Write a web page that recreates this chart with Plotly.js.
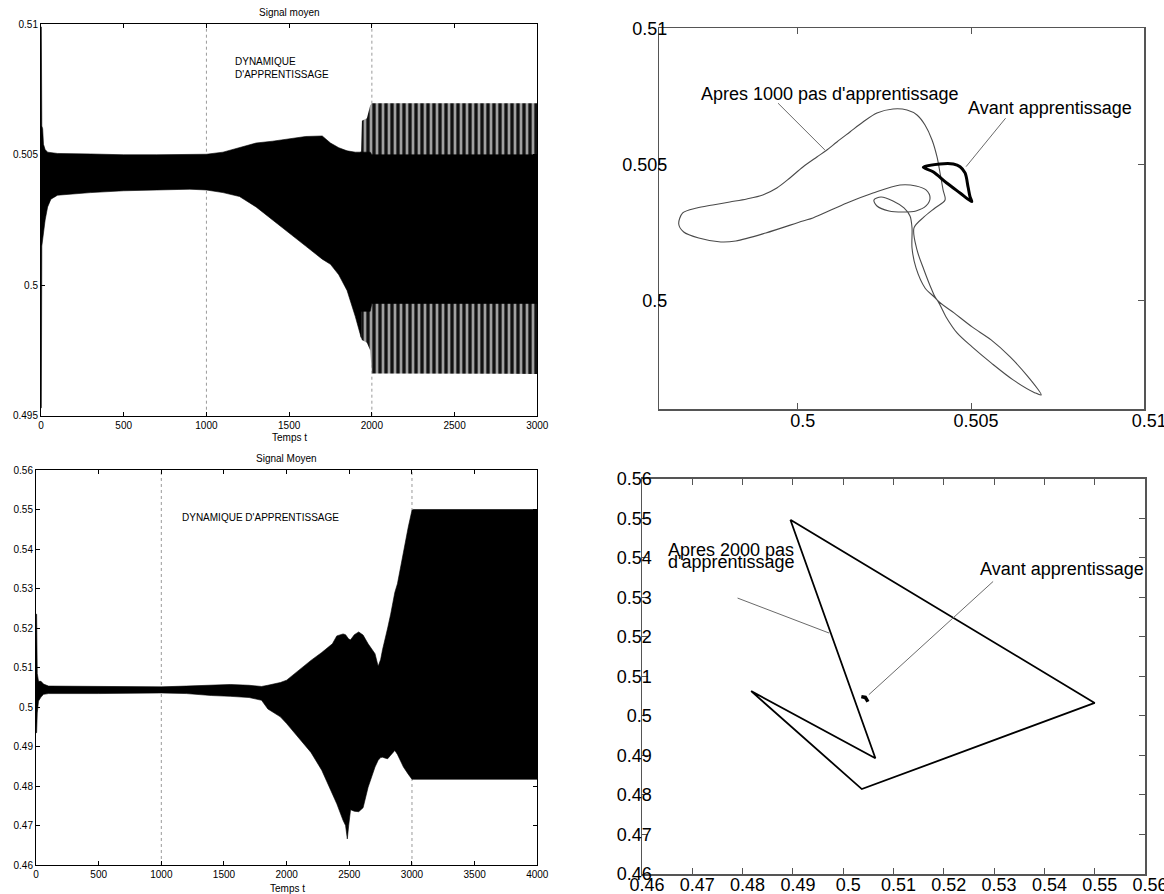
<!DOCTYPE html>
<html><head><meta charset="utf-8">
<script src="https://cdn.plot.ly/plotly-3.0.1.min.js"></script>
<style>html,body{margin:0;padding:0;background:#fff}#chart{width:1164px;height:894px}</style>
</head><body><div id="chart"></div>
<script>
// ---------- Top-left: "Signal moyen" (envelope of the oscillating signal)
const tlT  = [0, 2, 5, 10, 15, 25, 40, 60, 100, 300, 500, 700, 900, 1000, 1100, 1200, 1300, 1400, 1500, 1600, 1700, 1750, 1800, 1850, 1900, 1935, 1940, 1970, 1990, 2000, 2500, 3000];
const tlHi = [0.5099, 0.5099, 0.5061, 0.5060, 0.5054, 0.5052, 0.5051, 0.50508, 0.50505, 0.50503, 0.50500, 0.50500, 0.50500, 0.50502, 0.50510, 0.50528, 0.50545, 0.50552, 0.50562, 0.50570, 0.50572, 0.50545, 0.50527, 0.50515, 0.50510, 0.50510, 0.50630, 0.50640, 0.50690, 0.50697, 0.50697, 0.50697];
const tlLo = [0.4953, 0.4953, 0.5015, 0.5017, 0.5020, 0.5025, 0.5030, 0.5033, 0.50345, 0.50355, 0.50362, 0.50365, 0.50368, 0.50365, 0.50355, 0.50340, 0.50300, 0.50250, 0.50200, 0.50150, 0.50100, 0.50080, 0.50040, 0.49980, 0.49880, 0.49800, 0.49790, 0.49780, 0.49750, 0.49662, 0.49660, 0.49660];
const tlCoreT  = [1930, 1990, 2000, 3000];
const tlCoreHi = [0.5051, 0.5051, 0.5050, 0.5050];
const tlCoreLo = [0.4990, 0.4990, 0.4993, 0.4993];
const tlMarks = [1000, 2000];
const tlXTicks = [0, 500, 1000, 1500, 2000, 2500, 3000];
const tlYTicks = [0.495, 0.5, 0.505, 0.51];

// ---------- Bottom-left: "Signal Moyen"
const blT  = [0, 5, 10, 20, 40, 60, 100, 500, 1000, 1200, 1400, 1550, 1700, 1800, 1850, 1900, 1950, 2000, 2100, 2194, 2280, 2365, 2400, 2450, 2470, 2484, 2495, 2510, 2540, 2575, 2610, 2650, 2705, 2730, 2750, 2765, 2790, 2806, 2830, 2863, 2884, 2932, 2970, 3000, 3010, 4000];
const blHi = [0.5235, 0.5235, 0.5085, 0.5065, 0.5065, 0.5058, 0.5053, 0.5052, 0.5051, 0.5053, 0.5056, 0.5057, 0.5055, 0.5052, 0.5055, 0.5059, 0.5062, 0.5068, 0.5095, 0.5118, 0.5138, 0.5160, 0.5180, 0.5185, 0.5183, 0.5175, 0.5172, 0.5170, 0.5183, 0.5190, 0.5182, 0.5160, 0.5135, 0.5103, 0.5120, 0.5145, 0.5175, 0.5200, 0.5235, 0.5290, 0.5312, 0.5396, 0.5455, 0.5498, 0.5500, 0.5500];
const blLo = [0.4935, 0.4935, 0.4985, 0.5015, 0.5025, 0.5032, 0.5034, 0.5034, 0.50355, 0.5034, 0.5029, 0.5027, 0.5024, 0.5017, 0.4995, 0.4985, 0.4975, 0.4958, 0.4921, 0.4885, 0.4840, 0.4780, 0.4755, 0.4713, 0.4700, 0.4666, 0.4700, 0.4740, 0.4736, 0.4735, 0.4745, 0.4797, 0.4848, 0.4865, 0.4872, 0.4873, 0.4870, 0.4869, 0.4878, 0.4890, 0.4880, 0.4848, 0.4830, 0.4817, 0.4817, 0.4817];
const blMarks = [1000, 3000];
const blXTicks = [0, 500, 1000, 1500, 2000, 2500, 3000, 3500, 4000];
const blYTicks = [0.46, 0.47, 0.48, 0.49, 0.5, 0.51, 0.52, 0.53, 0.54, 0.55, 0.56];

// ---------- Top-right: phase portrait
const trBeforeX = [0.503621, 0.504104, 0.504488, 0.504682, 0.504826, 0.504913, 0.504971, 0.505020, 0.504682, 0.504297, 0.503902, 0.503621];
const trBeforeY = [0.504889, 0.505010, 0.505010, 0.504911, 0.504680, 0.504165, 0.503797, 0.503625, 0.503944, 0.504312, 0.504727, 0.504889];
const trAfterX = [0.496561, 0.496676, 0.497081, 0.497543, 0.498035, 0.498526, 0.498988, 0.499393, 0.499769, 0.500145,
  0.500549, 0.500838, 0.501127, 0.501503, 0.501879, 0.502283, 0.502746, 0.503150, 0.503439, 0.503670,
  0.503873, 0.504017, 0.504104, 0.504191, 0.504248, 0.503959, 0.503641, 0.503352, 0.503439, 0.503641,
  0.503844, 0.504017, 0.504508, 0.505029, 0.505578, 0.506127, 0.506647, 0.507023, 0.506849, 0.506214,
  0.505578, 0.505029, 0.504595, 0.504277, 0.504017, 0.503670, 0.503410, 0.503295, 0.503295, 0.503237,
  0.503063, 0.502746, 0.502399, 0.502196, 0.502283, 0.502630, 0.503035, 0.503410, 0.503699, 0.503815,
  0.503699, 0.503410, 0.502948, 0.502168, 0.501416, 0.500434, 0.500145, 0.499075, 0.498208, 0.497775,
  0.497139, 0.496705, 0.496561];
const trAfterY = [0.502805, 0.503209, 0.503393, 0.503503, 0.503614, 0.503724, 0.503871, 0.504128, 0.504496, 0.504900,
  0.505268, 0.505525, 0.505819, 0.506187, 0.506554, 0.506885, 0.507032, 0.506995, 0.506812, 0.506444,
  0.505893, 0.505268, 0.504680, 0.504055, 0.503687, 0.503393, 0.503062, 0.502658, 0.501849, 0.501114,
  0.500452, 0.500011, 0.499533, 0.499019, 0.498541, 0.497916, 0.497181, 0.496519, 0.496592, 0.497070,
  0.497695, 0.498283, 0.498798, 0.499386, 0.500011, 0.500452, 0.501187, 0.501923, 0.502658, 0.503099,
  0.503393, 0.503650, 0.503797, 0.503687, 0.503466, 0.503283, 0.503246, 0.503283, 0.503466, 0.503761,
  0.504055, 0.504202, 0.504238, 0.503944, 0.503577, 0.503025, 0.502915, 0.502474, 0.502180, 0.502143,
  0.502290, 0.502511, 0.502805];
const trTicks = [0.5, 0.505, 0.51];

// ---------- Bottom-right: phase portrait
const brBeforeX = [0.5036, 0.5044, 0.5047, 0.5049];
const brBeforeY = [0.5049, 0.5047, 0.5041, 0.5036];
const brAfterX = [0.4895, 0.5064, 0.4817, 0.5037, 0.5500, 0.4895];
const brAfterY = [0.5497, 0.4893, 0.5063, 0.4815, 0.5033, 0.5497];
const brTicks = [0.46, 0.47, 0.48, 0.49, 0.5, 0.51, 0.52, 0.53, 0.54, 0.55, 0.56];

// ---------- helpers
const FONT = 'Liberation Sans, Arial, Helvetica, sans-serif';
function band(T, Hi, Lo, t0, t1, xa, ya, color, pattern) {
  const idx = T.map((t, i) => i).filter(i => T[i] >= t0 && T[i] <= t1);
  const rev = idx.slice().reverse();
  const tr = {
    type: 'scatter', mode: 'lines', xaxis: xa, yaxis: ya,
    x: idx.map(i => T[i]).concat(rev.map(i => T[i])),
    y: idx.map(i => Hi[i]).concat(rev.map(i => Lo[i])),
    fill: 'toself', fillcolor: color, line: {color: pattern ? 'rgba(0,0,0,0)' : color, width: 0.6},
    hoverinfo: 'skip', showlegend: false
  };
  if (pattern) tr.fillpattern = pattern;
  return tr;
}
function curve(X, Y, xa, ya, color, width, spline) {
  return {type: 'scatter', mode: 'lines', x: X, y: Y, xaxis: xa, yaxis: ya,
    line: {color: color, width: width, shape: spline ? 'spline' : 'linear', smoothing: 0.9},
    hoverinfo: 'skip', showlegend: false};
}

const stripes = {shape: '|', size: 6, solidity: 0.55, fgcolor: '#111', bgcolor: '#a0a0a0', fillmode: 'replace'};

const traces = [
  band(tlT, tlHi, tlLo, 0, 1935, 'x', 'y', '#000'),
  band(tlT, tlHi, tlLo, 1935, 3000, 'x', 'y', '#707070', stripes),
  band(tlCoreT, tlCoreHi, tlCoreLo, 1930, 3000, 'x', 'y', '#000'),
  band(blT, blHi, blLo, 0, 4000, 'x3', 'y3', '#000'),
  curve(trAfterX, trAfterY, 'x2', 'y2', '#4a4a4a', 1.1, true),
  curve(trBeforeX, trBeforeY, 'x2', 'y2', '#000', 3, true),
  curve(brAfterX, brAfterY, 'x4', 'y4', '#000', 1.8, false),
  curve(brBeforeX, brBeforeY, 'x4', 'y4', '#000', 3.5, false)
];

function leftAxis(domain, anchor, range, vals, extra) {
  return Object.assign({
    domain: domain, anchor: anchor, range: range, tickmode: 'array', tickvals: vals,
    ticktext: vals.map(String), ticks: 'inside', ticklen: 4, tickcolor: '#000', tickwidth: 1,
    showline: true, linecolor: '#000', linewidth: 1, mirror: 'ticks', showgrid: false, zeroline: false,
    tickfont: {family: FONT, size: 10, color: '#000'}
  }, extra || {});
}
function rightAxis(domain, anchor, range, vals, extra) {
  return Object.assign({
    domain: domain, anchor: anchor, range: range, tickmode: 'array', tickvals: vals,
    ticktext: vals.map(String), ticks: 'inside', ticklen: 6, tickcolor: '#555', tickwidth: 1,
    showline: true, linecolor: '#555', linewidth: 1.5, mirror: 'ticks', showgrid: false, zeroline: false,
    tickfont: {family: FONT, size: 18, color: '#000'}
  }, extra || {});
}

const shapes = [];
tlMarks.forEach(m => shapes.push({type: 'line', xref: 'x', yref: 'y domain', x0: m, x1: m, y0: 0, y1: 1,
  line: {color: '#9a9a9a', width: 1, dash: 'dot'}, layer: 'below'}));
blMarks.forEach(m => shapes.push({type: 'line', xref: 'x3', yref: 'y3 domain', x0: m, x1: m, y0: 0, y1: 1,
  line: {color: '#9a9a9a', width: 1, dash: 'dot'}, layer: 'below'}));

function txt(text, x, y, xref, yref, size, xanchor) {
  return {text: text, x: x, y: y, xref: xref, yref: yref, showarrow: false,
    xanchor: xanchor || 'center', yanchor: 'middle', align: 'left',
    font: {family: FONT, size: size, color: '#000'}};
}
function pointer(x0, y0, x1, y1, xr, yr) {
  return {text: '', x: x1, y: y1, ax: x0, ay: y0, xref: xr, yref: yr, axref: xr, ayref: yr,
    showarrow: true, arrowhead: 0, arrowwidth: 1, arrowcolor: '#6a6a6a', standoff: 0, startstandoff: 0};
}

const annotations = [
  txt('Signal moyen', 0.2483, 0.9855, 'paper', 'paper', 10),
  txt('Temps t', 0.2483, 0.5101, 'paper', 'paper', 10),
  txt('DYNAMIQUE<br>D\'APPRENTISSAGE', 1158, 0.50834, 'x', 'y', 10, 'left'),
  txt('Signal Moyen', 0.2463, 0.4874, 'paper', 'paper', 10),
  txt('Temps t', 0.2470, 0.0064, 'paper', 'paper', 10),
  txt('DYNAMIQUE D\'APPRENTISSAGE', 1149, 0.54806, 'x3', 'y3', 10, 'left'),
  txt('Apres 1000 pas d\'apprentissage', 0.500925, 0.507595, 'x2', 'y2', 18),
  txt('Avant apprentissage', 0.507283, 0.507069, 'x2', 'y2', 18),
  pointer(0.499384, 0.507301, 0.500780, 0.505525, 'x2', 'y2'),
  pointer(0.506031, 0.506749, 0.504855, 0.504911, 'x2', 'y2'),
  txt('Apres 2000 pas', 0.4648, 0.5420, 'x4', 'y4', 18, 'left'),
  txt('d\'apprentissage', 0.4648, 0.5389, 'x4', 'y4', 18, 'left'),
  txt('Avant apprentissage', 0.5434, 0.5372, 'x4', 'y4', 18),
  pointer(0.4787, 0.5300, 0.4972, 0.5210, 'x4', 'y4'),
  pointer(0.5301, 0.5344, 0.5051, 0.5054, 'x4', 'y4')
];

const layout = {
  width: 1164, height: 894, margin: {l: 0, r: 0, t: 0, b: 0},
  paper_bgcolor: '#fff', plot_bgcolor: '#fff', showlegend: false,
  font: {family: FONT, color: '#000'},
  xaxis:  leftAxis([0.03522, 0.46160], 'y', [0, 3000], tlXTicks),
  yaxis:  leftAxis([0.53501, 0.97282], 'x', [0.495, 0.51], tlYTicks),
  xaxis2: rightAxis([0.56641, 0.98308], 'y2', [0.496, 0.51], trTicks, {ticklabelshift: 5, ticklabelstandoff: -5, ticklabeloverflow: 'allow'}),
  yaxis2: rightAxis([0.54250, 0.96834], 'x2', [0.496, 0.51], trTicks, {ticklabelstandoff: -13}),
  xaxis3: leftAxis([0.03093, 0.46160], 'y3', [0, 4000], blXTicks),
  yaxis3: leftAxis([0.03244, 0.47427], 'x3', [0.46, 0.56], blYTicks),
  xaxis4: rightAxis([0.55155, 0.98368], 'y4', [0.46, 0.56], brTicks, {ticklabelstandoff: -6, ticklabelshift: 5, ticklabeloverflow: 'allow'}),
  yaxis4: rightAxis([0.02237, 0.46421], 'x4', [0.46, 0.56], brTicks, {ticklabelstandoff: -15}),
  shapes: shapes,
  annotations: annotations
};

Plotly.newPlot('chart', traces, layout, {displayModeBar: false, staticPlot: true});
</script>
</body></html>
